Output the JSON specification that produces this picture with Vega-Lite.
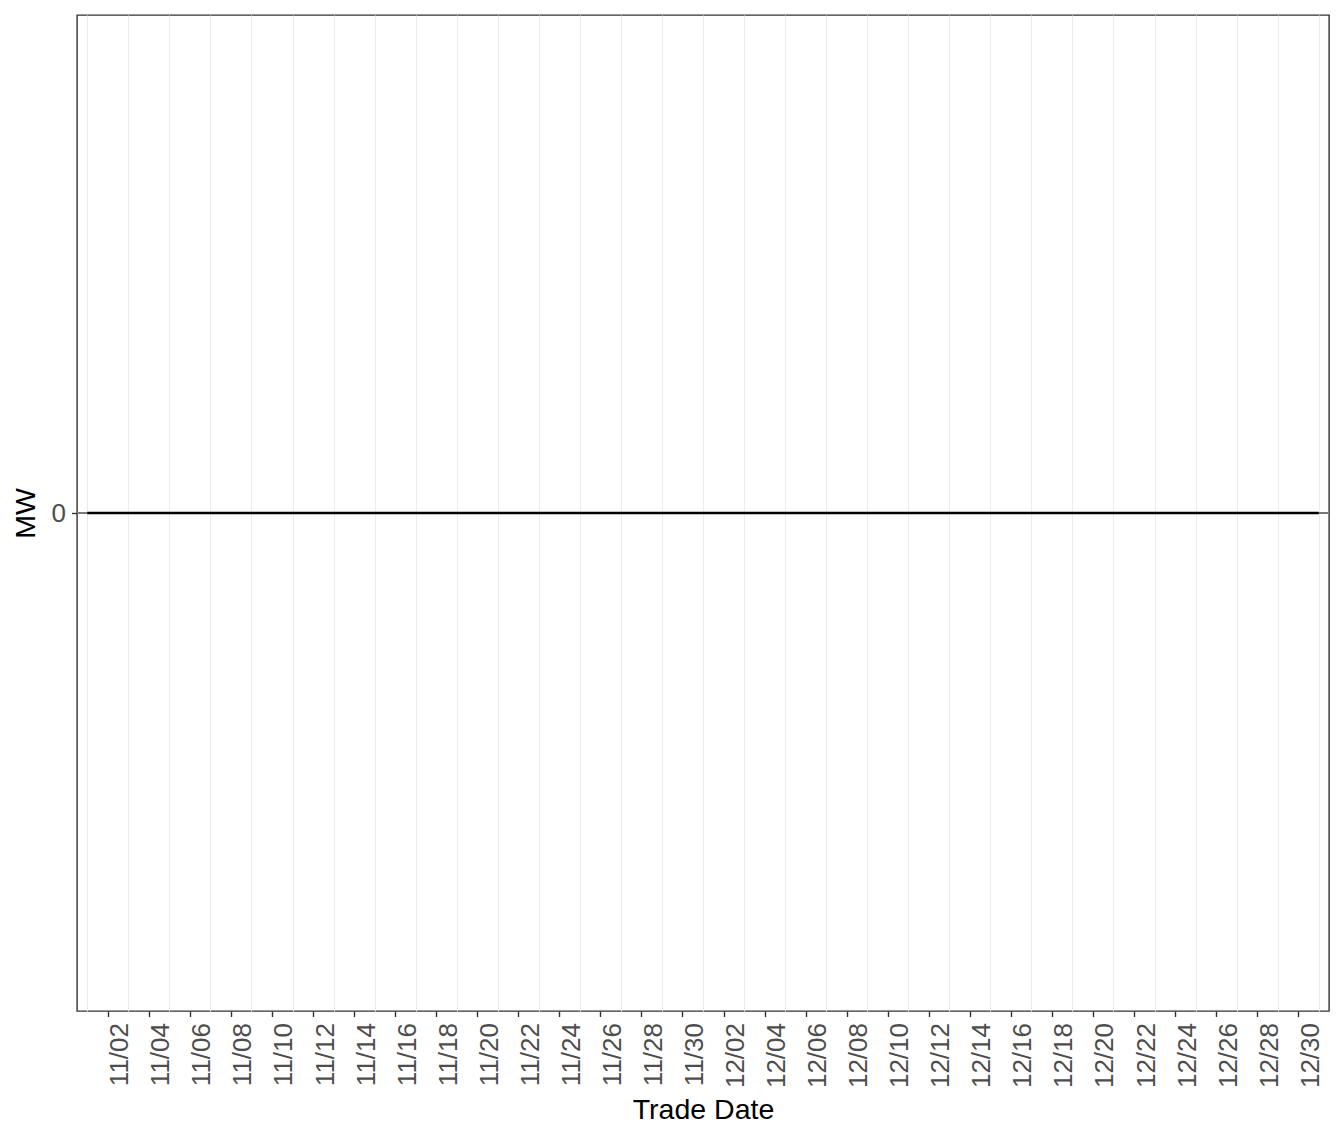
{
  "$schema": "https://vega.github.io/schema/vega-lite/v6.json",
  "width": 1252,
  "height": 996,
  "autosize": {"type": "none"},
  "padding": {"left": 77, "top": 15, "right": 15, "bottom": 131},
  "background": "white",
  "data": {
    "values": [
      {"Trade Date": "2023-11-01", "MW": 0},
      {"Trade Date": "2023-11-02", "MW": 0},
      {"Trade Date": "2023-11-03", "MW": 0},
      {"Trade Date": "2023-11-04", "MW": 0},
      {"Trade Date": "2023-11-05", "MW": 0},
      {"Trade Date": "2023-11-06", "MW": 0},
      {"Trade Date": "2023-11-07", "MW": 0},
      {"Trade Date": "2023-11-08", "MW": 0},
      {"Trade Date": "2023-11-09", "MW": 0},
      {"Trade Date": "2023-11-10", "MW": 0},
      {"Trade Date": "2023-11-11", "MW": 0},
      {"Trade Date": "2023-11-12", "MW": 0},
      {"Trade Date": "2023-11-13", "MW": 0},
      {"Trade Date": "2023-11-14", "MW": 0},
      {"Trade Date": "2023-11-15", "MW": 0},
      {"Trade Date": "2023-11-16", "MW": 0},
      {"Trade Date": "2023-11-17", "MW": 0},
      {"Trade Date": "2023-11-18", "MW": 0},
      {"Trade Date": "2023-11-19", "MW": 0},
      {"Trade Date": "2023-11-20", "MW": 0},
      {"Trade Date": "2023-11-21", "MW": 0},
      {"Trade Date": "2023-11-22", "MW": 0},
      {"Trade Date": "2023-11-23", "MW": 0},
      {"Trade Date": "2023-11-24", "MW": 0},
      {"Trade Date": "2023-11-25", "MW": 0},
      {"Trade Date": "2023-11-26", "MW": 0},
      {"Trade Date": "2023-11-27", "MW": 0},
      {"Trade Date": "2023-11-28", "MW": 0},
      {"Trade Date": "2023-11-29", "MW": 0},
      {"Trade Date": "2023-11-30", "MW": 0},
      {"Trade Date": "2023-12-01", "MW": 0},
      {"Trade Date": "2023-12-02", "MW": 0},
      {"Trade Date": "2023-12-03", "MW": 0},
      {"Trade Date": "2023-12-04", "MW": 0},
      {"Trade Date": "2023-12-05", "MW": 0},
      {"Trade Date": "2023-12-06", "MW": 0},
      {"Trade Date": "2023-12-07", "MW": 0},
      {"Trade Date": "2023-12-08", "MW": 0},
      {"Trade Date": "2023-12-09", "MW": 0},
      {"Trade Date": "2023-12-10", "MW": 0},
      {"Trade Date": "2023-12-11", "MW": 0},
      {"Trade Date": "2023-12-12", "MW": 0},
      {"Trade Date": "2023-12-13", "MW": 0},
      {"Trade Date": "2023-12-14", "MW": 0},
      {"Trade Date": "2023-12-15", "MW": 0},
      {"Trade Date": "2023-12-16", "MW": 0},
      {"Trade Date": "2023-12-17", "MW": 0},
      {"Trade Date": "2023-12-18", "MW": 0},
      {"Trade Date": "2023-12-19", "MW": 0},
      {"Trade Date": "2023-12-20", "MW": 0},
      {"Trade Date": "2023-12-21", "MW": 0},
      {"Trade Date": "2023-12-22", "MW": 0},
      {"Trade Date": "2023-12-23", "MW": 0},
      {"Trade Date": "2023-12-24", "MW": 0},
      {"Trade Date": "2023-12-25", "MW": 0},
      {"Trade Date": "2023-12-26", "MW": 0},
      {"Trade Date": "2023-12-27", "MW": 0},
      {"Trade Date": "2023-12-28", "MW": 0},
      {"Trade Date": "2023-12-29", "MW": 0},
      {"Trade Date": "2023-12-30", "MW": 0},
      {"Trade Date": "2023-12-31", "MW": 0}
    ]
  },
  "layer": [
    {
      "mark": {"type": "rule", "color": "#7a7a7a", "strokeWidth": 1},
      "encoding": {
        "y": {"datum": 0, "type": "quantitative"}
      }
    },
    {
      "mark": {"type": "line", "color": "black", "strokeWidth": 2.4},
      "encoding": {
        "x": {
          "field": "Trade Date",
          "type": "temporal",
          "scale": {
            "type": "utc",
            "domain": [
              {"year": 2023, "month": 10, "date": 31, "hours": 12, "utc": true},
              {"year": 2023, "month": 12, "date": 31, "hours": 12, "utc": true}
            ]
          },
          "axis": {
            "title": "Trade Date",
            "tickCount": {"interval": "day", "step": 1},
            "labelExpr": "utcdate(datum.value) % 2 == 0 ? utcFormat(datum.value, '%m/%d') : ''",
            "labelAngle": 270,
            "labelAlign": "right",
            "labelBaseline": "top",
            "labelOffset": -1,
            "labelOverlap": false,
            "labelFlush": false,
            "labelPadding": 6,
            "tickSize": 5.5,
            "tickOpacity": {"condition": {"test": "utcdate(datum.value) % 2 == 0", "value": 1}, "value": 0},
            "grid": true,
            "gridOpacity": {"condition": {"test": "utcdate(datum.value) % 2 == 1", "value": 1}, "value": 0},
            "titlePadding": 8
          }
        },
        "y": {
          "field": "MW",
          "type": "quantitative",
          "scale": {"domain": [-1, 1], "nice": false},
          "axis": {
            "title": "MW",
            "values": [0],
            "format": "d",
            "grid": false,
            "tickSize": 5.5,
            "labelPadding": 6,
            "titlePadding": 11
          }
        }
      }
    }
  ],
  "config": {
    "font": "Liberation Sans",
    "view": {"stroke": "#333333", "strokeWidth": 1.4},
    "axis": {
      "domain": false,
      "gridColor": "#EBEBEB",
      "gridWidth": 1,
      "tickColor": "#333333",
      "tickWidth": 1.4,
      "labelColor": "#4D4D4D",
      "labelFontSize": 26,
      "titleColor": "black",
      "titleFontSize": 28.5,
      "titleFontWeight": "normal"
    }
  }
}
